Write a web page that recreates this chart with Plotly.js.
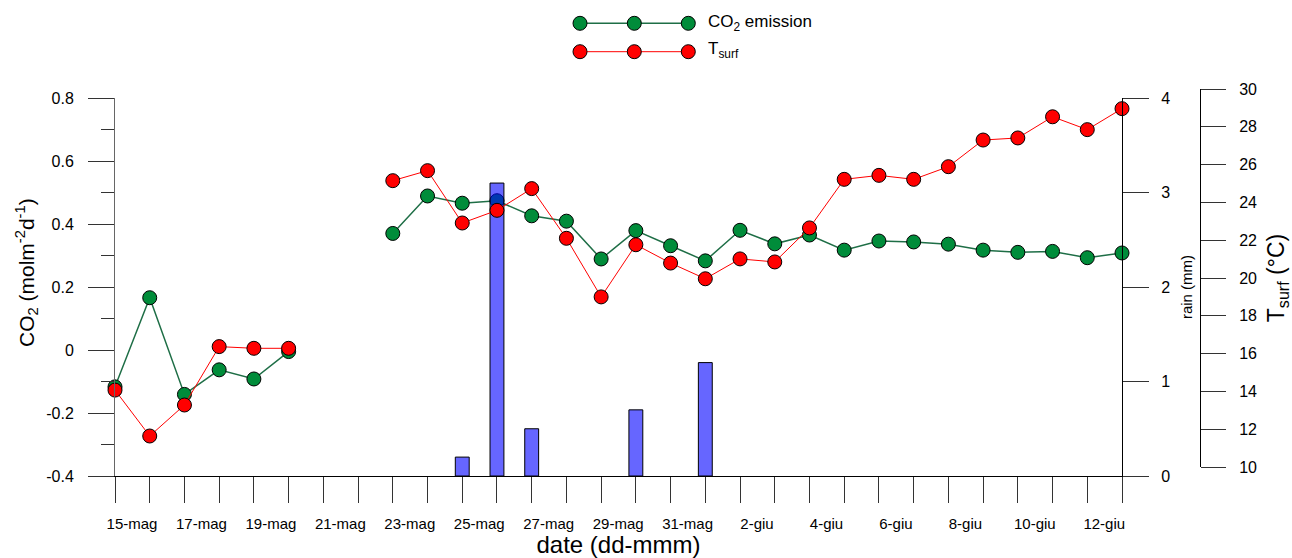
<!DOCTYPE html>
<html>
<head>
<meta charset="utf-8">
<script src="https://cdn.plot.ly/plotly-3.0.1.min.js"></script>
<style>html,body{margin:0;padding:0;background:#fff;}#chart{width:1292px;height:558px;}</style>
</head>
<body>
<div id="chart"></div>
<script>
// ---- data ----
const dates = ['2024-05-15','2024-05-16','2024-05-17','2024-05-18','2024-05-19','2024-05-20','2024-05-21','2024-05-22',
  '2024-05-23','2024-05-24','2024-05-25','2024-05-26','2024-05-27','2024-05-28','2024-05-29','2024-05-30','2024-05-31',
  '2024-06-01','2024-06-02','2024-06-03','2024-06-04','2024-06-05','2024-06-06','2024-06-07','2024-06-08','2024-06-09',
  '2024-06-10','2024-06-11','2024-06-12','2024-06-13'];
const co2 = [-0.117, 0.166, -0.141, -0.063, -0.092, -0.005, null, null,
  0.370, 0.489, 0.466, 0.474, 0.426, 0.409, 0.289, 0.379, 0.331,
  0.283, 0.380, 0.337, 0.365, 0.317, 0.346, 0.343, 0.336, 0.317, 0.310, 0.313, 0.293, 0.308];
const tsurf = [14.07, 11.64, 13.28, 16.37, 16.28, 16.28, null, null,
  25.15, 25.68, 22.91, 23.58, 24.73, 22.10, 19.00, 21.76, 20.79,
  19.96, 21.01, 20.85, 22.65, 25.22, 25.43, 25.22, 25.89, 27.30, 27.41, 28.53, 27.85, 28.96];
const rainDates = ['2024-05-25','2024-05-26','2024-05-27','2024-05-30','2024-06-01'];
const rain = [0.20, 3.10, 0.50, 0.70, 1.20];
const xLabelDates = ['2024-05-15','2024-05-17','2024-05-19','2024-05-21','2024-05-23','2024-05-25','2024-05-27',
  '2024-05-29','2024-05-31','2024-06-02','2024-06-04','2024-06-06','2024-06-08','2024-06-10','2024-06-12'];
const xLabels = ['15-mag','17-mag','19-mag','21-mag','23-mag','25-mag','27-mag','29-mag','31-mag',
  '2-giu','4-giu','6-giu','8-giu','10-giu','12-giu'];
const co2TickVals = [-0.4,-0.2,0,0.2,0.4,0.6,0.8];
const co2TickText = ['-0.4','-0.2','0','0.2','0.4','0.6','0.8'];
const co2MinorVals = [-0.3,-0.1,0.1,0.3,0.5,0.7];
const rainTickVals = [0,1,2,3,4];
const tsTickVals = [10,12,14,16,18,20,22,24,26,28,30];

// ---- geometry helpers (styling only) ----
const W = 1292, H = 558, L = 115, R = 30, T = 89, B = 82;
const PW = W - L - R, PH = H - T - B;
const plotRight = 1122, tsAxisX = 1200, tsShift = 9;
const px = v => (v - L) / PW;
const py = v => (H - B - v) / PH;
const mainTop = 1 - tsShift / PH;
const tsPerPx = (30 - 10) / (PH - tsShift);
const tsRange = [10 - tsShift * tsPerPx, 30 - tsShift * tsPerPx];

const FONT = 'Arial, "Liberation Sans", sans-serif';
const GREEN = '#008C3A', GREEN_LINE = '#1E6E46', RED = '#FF0000';

const minorDates = dates.filter(d => xLabelDates.indexOf(d) < 0);

const traces = [
  { x: dates, y: co2, xaxis: 'x', yaxis: 'y', type: 'scatter', mode: 'lines+markers', name: 'CO2 emission',
    cliponaxis: false, line: {color: GREEN_LINE, width: 1.5},
    marker: {color: GREEN, size: 14, line: {color: '#000', width: 1}}, showlegend: false },
  { x: rainDates, y: rain, xaxis: 'x', yaxis: 'y2', type: 'bar', name: 'rain', width: 0.4 * 86400000,
    marker: {color: 'rgba(0,0,255,0.6)', line: {color: '#000', width: 1}}, showlegend: false },
  { x: dates, y: tsurf, xaxis: 'x', yaxis: 'y3', type: 'scatter', mode: 'lines+markers', name: 'Tsurf',
    cliponaxis: false, line: {color: RED, width: 1},
    marker: {color: RED, size: 14, line: {color: '#000', width: 1}}, showlegend: false },
  { x: [dates[0]], y: [null], xaxis: 'x', yaxis: 'y4', type: 'scatter', mode: 'markers', showlegend: false, hoverinfo: 'skip' }
];

// custom legend (three markers on a line, like the original)
const legendY = [py(23.3), py(51.7)];
const legendX = [px(580), px(634.3), px(688.3)];
const shapes = [];
[[GREEN, GREEN_LINE, 1.5], [RED, RED, 1]].forEach((c, i) => {
  shapes.push({type: 'line', xref: 'paper', yref: 'paper', x0: legendX[0], x1: legendX[2], y0: legendY[i], y1: legendY[i],
    line: {color: c[1], width: c[2]}});
  legendX.forEach(lx => shapes.push({type: 'circle', xref: 'paper', yref: 'paper', xsizemode: 'pixel', ysizemode: 'pixel',
    xanchor: lx, yanchor: legendY[i], x0: -7, x1: 7, y0: -7, y1: 7, fillcolor: c[0], line: {color: '#000', width: 1}}));
});
const annotations = [
  {text: 'CO<sub>2</sub> emission', x: px(706), y: legendY[0], xref: 'paper', yref: 'paper', xanchor: 'left', yanchor: 'middle',
   showarrow: false, font: {family: FONT, size: 17, color: '#000'}},
  {text: 'T<sub>surf</sub>', x: px(706), y: legendY[1] + 2 / PH, xref: 'paper', yref: 'paper', xanchor: 'left', yanchor: 'middle',
   showarrow: false, font: {family: FONT, size: 17, color: '#000'}},
  {text: 'CO<sub>2</sub> (molm<sup>-2</sup>d<sup>-1</sup>)', x: px(26), y: py(273), xref: 'paper', yref: 'paper',
   xanchor: 'center', yanchor: 'middle', textangle: -90, showarrow: false, font: {family: FONT, size: 21, color: '#000'}}
];

const axCommon = {showgrid: false, zeroline: false, showline: true, linecolor: '#000', linewidth: 1,
  ticks: 'outside', tickcolor: '#333', tickwidth: 1, tickfont: {family: FONT, size: 16, color: '#000'}};

const layout = {
  width: W, height: H, margin: {l: L, r: R, t: T, b: B, pad: 0},
  paper_bgcolor: '#fff', plot_bgcolor: 'rgba(0,0,0,0)', font: {family: FONT, color: '#000'},
  showlegend: false, bargap: 0,
  xaxis: Object.assign({}, axCommon, {
    type: 'date', domain: [0, px(plotRight)], range: [dates[0], dates[dates.length - 1]], anchor: 'y',
    tickmode: 'array', tickvals: xLabelDates, ticktext: xLabels, ticklen: 26, ticklabelstandoff: 8, ticklabelshift: 17,
    tickfont: {family: FONT, size: 15, color: '#000'},
    minor: {tickmode: 'array', tickvals: minorDates, ticklen: 26, ticks: 'outside', tickcolor: '#333', tickwidth: 1},
    title: {text: 'date (dd-mmm)', font: {family: FONT, size: 24, color: '#000'}, standoff: 4}
  }),
  yaxis: Object.assign({}, axCommon, {
    domain: [0, mainTop], range: [-0.4, 0.8], anchor: 'x', linecolor: '#666',
    tickmode: 'array', tickvals: co2TickVals, ticktext: co2TickText, ticklen: 26, ticklabelstandoff: 11,
    minor: {tickmode: 'array', tickvals: co2MinorVals, ticklen: 13, ticks: 'outside', tickcolor: '#333'}
  }),
  yaxis2: Object.assign({}, axCommon, {
    overlaying: 'y', side: 'right', anchor: 'x', range: [0, 4],
    tickmode: 'array', tickvals: rainTickVals, ticklen: 26, ticklabelstandoff: 9,
    title: {text: 'rain (mm)', font: {family: FONT, size: 15, color: '#000'}, standoff: 12}
  }),
  yaxis3: {overlaying: 'y', anchor: 'x', range: tsRange, visible: false, showgrid: false, zeroline: false},
  yaxis4: Object.assign({}, axCommon, {
    domain: [tsShift / PH, 1], range: [10, 30], anchor: 'free', position: px(tsAxisX), side: 'right',
    tickmode: 'array', tickvals: tsTickVals, ticklen: 25, ticklabelstandoff: 10,
    title: {text: 'T<sub>surf</sub> (°C)', font: {family: FONT, size: 23, color: '#000'}, standoff: 14}
  }),
  shapes: shapes, annotations: annotations
};

Plotly.newPlot('chart', traces, layout, {displayModeBar: false, staticPlot: true});
</script>
</body>
</html>
